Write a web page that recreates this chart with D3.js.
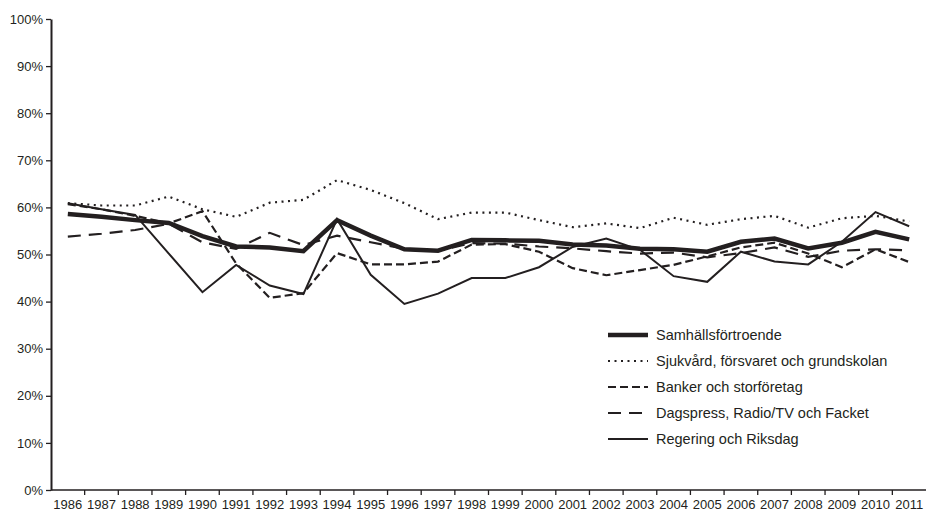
<!DOCTYPE html>
<html>
<head>
<meta charset="utf-8">
<script src="https://cdn.jsdelivr.net/npm/d3@7"></script>
<style>
  body { margin: 0; background: #fff; }
  svg text { font-family: "Liberation Sans", Arial, sans-serif; fill: #231f20; }
</style>
</head>
<body>
<div id="chart"></div>
<script>
// years on the x axis
var years = ["1986","1987","1988","1989","1990","1991","1992","1993","1994","1995","1996","1997","1998",
  "1999","2000","2001","2002","2003","2004","2005","2006","2007","2008","2009","2010","2011"];

var yTicks = [0, 10, 20, 30, 40, 50, 60, 70, 80, 90, 100];

// percent values
var samhall = [58.6,58.0,57.3,56.7,53.9,51.7,51.5,50.7,57.3,54.0,51.1,50.8,53.1,53.0,52.9,52.1,51.9,51.2,51.1,50.6,52.7,53.4,51.3,52.5,54.8,53.2];
var sjukvard = [60.9,60.4,60.4,62.3,59.6,58.0,61.0,61.6,65.8,63.7,60.9,57.5,58.9,58.9,57.3,55.8,56.6,55.6,57.8,56.3,57.5,58.2,55.7,57.7,58.2,57.0];
var banker = [60.7,59.6,58.2,56.6,59.2,48.1,40.8,41.8,50.3,47.9,47.9,48.5,52.1,52.2,50.6,47.1,45.6,46.7,47.8,49.6,51.5,52.5,50.2,47.3,51.1,48.4];
var dagspress = [53.8,54.4,55.2,56.5,52.6,51.2,54.6,52.0,54.0,52.6,51.2,50.8,52.4,52.3,51.7,51.3,50.7,50.2,50.4,49.4,50.3,51.5,49.5,50.8,51.1,50.9];
var regering = [60.9,59.6,58.4,50.2,42.0,47.8,43.4,41.6,57.5,45.7,39.5,41.7,45.0,45.0,47.3,51.6,53.4,51.0,45.4,44.2,50.6,48.5,47.9,52.7,59.0,56.0];

var series = [
  { name: "Samhällsförtroende", values: samhall, width: 4.5, dash: null },
  { name: "Sjukvård, försvaret och grundskolan", values: sjukvard, width: 2.2, dash: "2,4.5" },
  { name: "Banker och storföretag", values: banker, width: 2.2, dash: "8,4" },
  { name: "Dagspress, Radio/TV och Facket", values: dagspress, width: 2.2, dash: "13,8" },
  { name: "Regering och Riksdag", values: regering, width: 2, dash: null }
];

var width = 926, height = 514;
var plotLeft = 51, plotRight = 926, plotTop = 19, plotBottom = 490;

var svg = d3.select("#chart").append("svg")
  .attr("width", width)
  .attr("height", height);

var x = d3.scaleBand().domain(years).range([plotLeft, plotRight]);
var y = d3.scaleLinear().domain([0, 100]).range([plotBottom, plotTop]);

// lines
var line = d3.line()
  .x(function(d, i) { return x(years[i]) + x.bandwidth() / 2; })
  .y(function(d) { return y(d); });

svg.append("g").selectAll("path")
  .data(series.slice().reverse())
  .enter()
  .append("path")
    .attr("d", function(d) { return line(d.values); })
    .attr("fill", "none")
    .attr("stroke", "#231f20")
    .attr("stroke-width", function(d) { return d.width; })
    .attr("stroke-dasharray", function(d) { return d.dash; })
    .attr("stroke-linejoin", "miter");

// y axis
svg.append("g")
  .attr("transform", "translate(" + plotLeft + ",0)")
  .call(d3.axisLeft(y).tickValues(yTicks).tickSize(5).tickSizeOuter(0).tickFormat(function(d) { return d + "%"; }))
  .call(function(g) { g.select(".domain").attr("stroke", "#231f20").attr("stroke-width", 2); })
  .call(function(g) { g.selectAll(".tick line").attr("stroke", "#231f20").attr("stroke-width", 1.3); })
  .call(function(g) { g.selectAll(".tick text").attr("x", -8).style("font-size", "13px").attr("fill", "#231f20"); });

// x axis: ticks sit between categories
var xAxis = svg.append("g")
  .attr("transform", "translate(0," + plotBottom + ")");
xAxis.append("line")
  .attr("x1", plotLeft).attr("x2", plotRight)
  .attr("stroke", "#231f20").attr("stroke-width", 1.5);
xAxis.selectAll("line.tk")
  .data(years.slice(1))
  .enter().append("line")
    .attr("class", "tk")
    .attr("x1", function(d) { return x(d); })
    .attr("x2", function(d) { return x(d); })
    .attr("y1", 0).attr("y2", 5)
    .attr("stroke", "#231f20").attr("stroke-width", 1.3);
xAxis.selectAll("text")
  .data(years)
  .enter().append("text")
    .attr("x", function(d) { return x(d) + x.bandwidth() / 2; })
    .attr("y", 19)
    .attr("text-anchor", "middle")
    .style("font-size", "13px")
    .text(function(d) { return d; });

// legend
var legend = svg.append("g").attr("transform", "translate(608,335)");
var row = legend.selectAll("g")
  .data(series)
  .enter().append("g")
    .attr("transform", function(d, i) { return "translate(0," + (i * 26) + ")"; });
row.append("line")
  .attr("x1", 0).attr("x2", 40)
  .attr("stroke", "#231f20")
  .attr("stroke-width", function(d) { return d.width; })
  .attr("stroke-dasharray", function(d) { return d.dash; });
row.append("text")
  .attr("x", 48)
  .attr("y", 5)
  .style("font-size", "14.5px")
  .text(function(d) { return d.name; });
</script>
</body>
</html>
